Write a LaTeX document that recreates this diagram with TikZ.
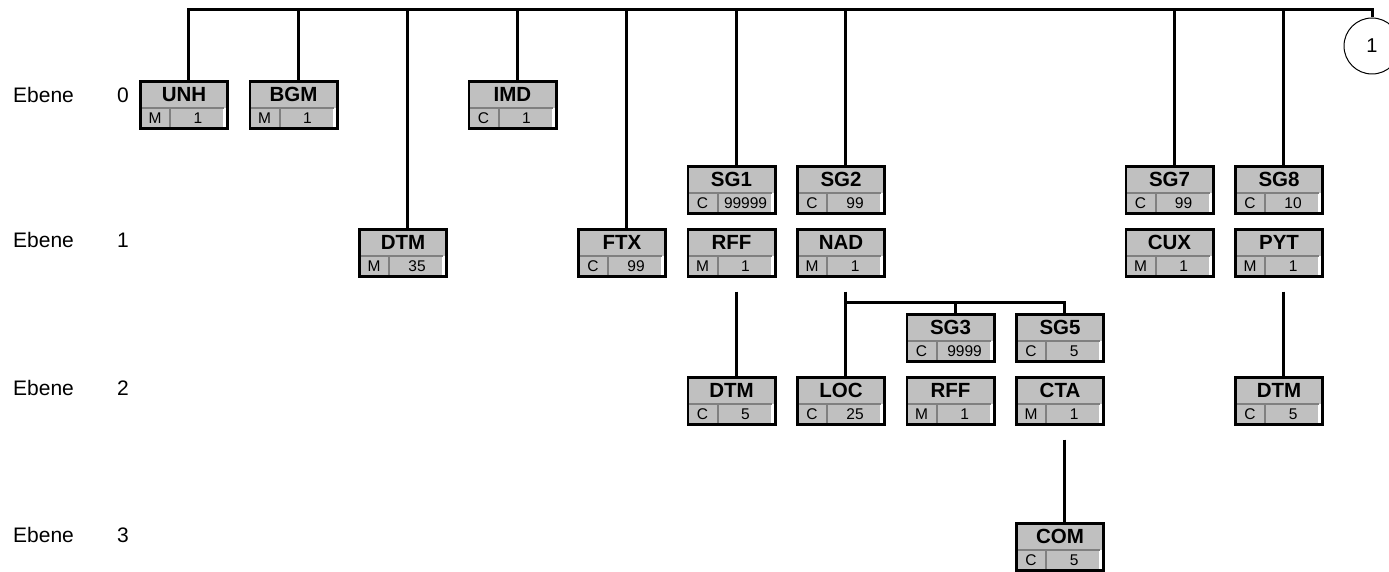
\documentclass[tikz,border=0pt]{standalone}
\usepackage{fontspec}
\setmainfont{Liberation Sans}
\definecolor{segfill}{HTML}{C0C0C0}
\definecolor{divgray}{HTML}{808080}
\tikzset{
  segbox/.style={fill=segfill,draw=none,minimum width=87.3pt,minimum height=47.3pt,inner sep=0pt,outer sep=0pt,anchor=north west},
  boxline/.style={draw=black,line width=2.7pt},
  divline/.style={draw=divgray,line width=2pt},
  tagtext/.style={font=\fontsize{20.5}{24}\selectfont\bfseries,inner sep=0pt},
  celltext/.style={font=\fontsize{15.5}{18}\selectfont,inner sep=0pt},
  leveltext/.style={font=\fontsize{21}{25}\selectfont,inner sep=0pt},
  connector/.style={draw=black,line width=3pt},
}
% one segment box: name, left, top, tag, status, repeat
\newcommand{\drawsegment}[6]{%
  \node[segbox] (#1) at (#2+1.35,#3+1.35) {};
  \fill[white] ([xshift=-4.5pt]#1.south east) rectangle ([yshift=21pt]#1.south east);
  \draw[divline] ([yshift=-26.7pt]#1.north west) -- ([xshift=-3.5pt,yshift=-26.7pt]#1.north east);
  \draw[divline] ([xshift=30pt,yshift=-26.7pt]#1.north west) -- ([xshift=30pt]#1.south west);
  \draw[boxline] (#1.north west) rectangle (#1.south east);
  \node[tagtext] (#1-tag) at ([yshift=-12.7pt]#1.north) {#4};
  \node[celltext] (#1-status) at ([xshift=14.7pt,yshift=10pt]#1.south west) {#5};
  \node[celltext] (#1-repeat) at ([xshift=57.7pt,yshift=10pt]#1.south west) {#6};
}

\begin{document}
\begin{tikzpicture}[x=1pt,y=-1pt]
\clip (0,0) rectangle (1389,572);
% level labels
\node[leveltext,anchor=west] (level-0) at (13,95) {Ebene};
\node[leveltext] (level-0-nr) at (123,95) {0};
\node[leveltext,anchor=west] (level-1) at (13,240) {Ebene};
\node[leveltext] (level-1-nr) at (123,240) {1};
\node[leveltext,anchor=west] (level-2) at (13,388) {Ebene};
\node[leveltext] (level-2-nr) at (123,388) {2};
\node[leveltext,anchor=west] (level-3) at (13,535) {Ebene};
\node[leveltext] (level-3-nr) at (123,535) {3};
% segments
\drawsegment{unh}{139}{80}{UNH}{M}{1}
\drawsegment{bgm}{248.5}{80}{BGM}{M}{1}
\drawsegment{dtm-1}{358}{228}{DTM}{M}{35}
\drawsegment{imd}{467.5}{80}{IMD}{C}{1}
\drawsegment{ftx}{577}{228}{FTX}{C}{99}
\drawsegment{sg1}{686.5}{165}{SG1}{C}{99999}
\drawsegment{rff-1}{686.5}{228}{RFF}{M}{1}
\drawsegment{dtm-2}{686.5}{376}{DTM}{C}{5}
\drawsegment{sg2}{796}{165}{SG2}{C}{99}
\drawsegment{nad}{796}{228}{NAD}{M}{1}
\drawsegment{loc}{796}{376}{LOC}{C}{25}
\drawsegment{sg3}{905.5}{313}{SG3}{C}{9999}
\drawsegment{rff-2}{905.5}{376}{RFF}{M}{1}
\drawsegment{sg5}{1015}{313}{SG5}{C}{5}
\drawsegment{cta}{1015}{376}{CTA}{M}{1}
\drawsegment{com}{1015}{522}{COM}{C}{5}
\drawsegment{sg7}{1124.5}{165}{SG7}{C}{99}
\drawsegment{cux}{1124.5}{228}{CUX}{M}{1}
\drawsegment{sg8}{1234}{165}{SG8}{C}{10}
\drawsegment{pyt}{1234}{228}{PYT}{M}{1}
\drawsegment{dtm-3}{1234}{376}{DTM}{C}{5}
% continuation mark
\node[draw=black,circle,line width=1pt,minimum size=56pt,inner sep=0pt,font=\fontsize{20}{24}\selectfont] (msg-cont) at (1372,46) {1};
% level 0 bus
\coordinate (bus-end) at (1372,9.5);
\draw[connector] ([xshift=4.5pt]unh.north) |- (bus-end) -- (msg-cont.north);
\foreach \seg in {bgm,dtm-1,imd,ftx,sg1,sg2,sg7,sg8}
  \draw[connector] ([xshift=4.5pt]\seg.north) -- ([xshift=4.5pt]\seg.north |- bus-end);
% groups
\draw[connector] ([xshift=4.5pt,yshift=-15pt]rff-1.south) -- ([xshift=4.5pt]dtm-2.north);
\draw[connector] ([xshift=4.5pt,yshift=-15pt]nad.south) -- ([xshift=4.5pt]loc.north);
\coordinate (nad-bus) at ([xshift=4.5pt,yshift=-26pt]nad.south);
\draw[connector] ([xshift=4.5pt]sg5.north) |- (nad-bus);
\draw[connector] ([xshift=4.5pt]sg3.north) -- ([xshift=4.5pt]sg3.north |- nad-bus);
\draw[connector] ([xshift=4.5pt,yshift=-15pt]cta.south) -- ([xshift=4.5pt]com.north);
\draw[connector] ([xshift=4.5pt,yshift=-15pt]pyt.south) -- ([xshift=4.5pt]dtm-3.north);
\end{tikzpicture}
\end{document}
